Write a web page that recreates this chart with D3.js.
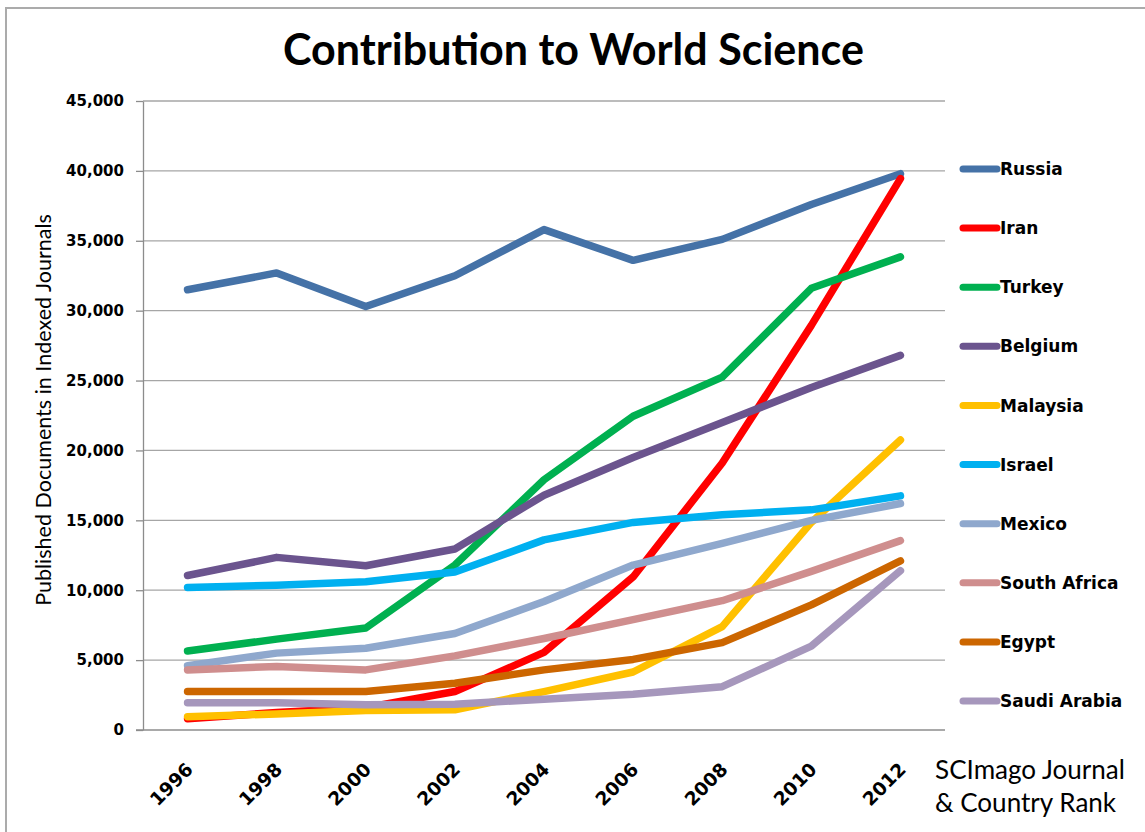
<!DOCTYPE html>
<html>
<head>
<meta charset="utf-8">
<script src="https://cdn.jsdelivr.net/npm/d3@7"></script>
<style>
  html, body { margin: 0; padding: 0; background: #fff; }
  svg { display: block; }
</style>
</head>
<body>
<svg id="chart" width="1145" height="832"></svg>
<script>
// ---- data ----
const years = ["1996", "1998", "2000", "2002", "2004", "2006", "2008", "2010", "2012"];
const seriesNames = ["Russia", "Iran", "Turkey", "Belgium", "Malaysia", "Israel", "Mexico", "South Africa", "Egypt", "Saudi Arabia"];
const russia      = [31500, 32700, 30300, 32500, 35800, 33600, 35100, 37600, 39800];
const iran        = [800, 1250, 1600, 2750, 5550, 10950, 19100, 28950, 39450];
const turkey      = [5650, 6500, 7300, 11800, 17900, 22450, 25250, 31600, 33850];
const belgium     = [11050, 12350, 11750, 12950, 16800, 19500, 22000, 24500, 26800];
const malaysia    = [950, 1150, 1400, 1450, 2750, 4150, 7400, 14850, 20750];
const israel      = [10200, 10350, 10600, 11300, 13600, 14850, 15400, 15750, 16750];
const mexico      = [4600, 5500, 5850, 6900, 9200, 11800, 13350, 15000, 16200];
const southAfrica = [4300, 4550, 4300, 5300, 6550, 7900, 9250, 11350, 13550];
const egypt       = [2750, 2750, 2750, 3350, 4300, 5050, 6250, 8950, 12100];
const saudiArabia = [1950, 1950, 1800, 1850, 2200, 2550, 3100, 6000, 11400];
const yTicks = [0, 5000, 10000, 15000, 20000, 25000, 30000, 35000, 40000, 45000];
const colors = ["#4572A7", "#FF0000", "#00B050", "#6B548E", "#FFC000", "#00B0F0", "#8FA8CD", "#CF8E8E", "#CC6600", "#A697BC"];

const seriesValues = [russia, iran, turkey, belgium, malaysia, israel, mexico, southAfrica, egypt, saudiArabia];
const series = seriesNames.map((name, i) => ({ name, values: seriesValues[i], color: colors[i] }));

// ---- layout ----
const svg = d3.select("#chart");
const plot = { left: 143, right: 945, top: 101, bottom: 730 };

const x = d3.scalePoint().domain(years).range([plot.left, plot.right]).padding(0.5);
const y = d3.scaleLinear().domain([0, 45000]).range([plot.bottom, plot.top]);

function fitText(sel, target) {
  const node = sel.node();
  const fs = parseFloat(sel.attr("font-size"));
  const len = node.getComputedTextLength();
  if (len > 0) sel.attr("font-size", (fs * target / len).toFixed(2));
  return sel;
}

// outer border
svg.append("rect")
  .attr("x", 6).attr("y", 8).attr("width", 1300).attr("height", 1000)
  .attr("fill", "none").attr("stroke", "#ABABAB").attr("stroke-width", 2);

// title
const title = svg.append("text")
  .attr("x", 573.5).attr("y", 65)
  .attr("text-anchor", "middle")
  .attr("font-family", "Lato, 'Open Sans', sans-serif")
  .attr("font-weight", "bold")
  .attr("font-size", 40)
  .attr("fill", "#000")
  .text("Contribution to World Science");
fitText(title, 581);

// gridlines
svg.append("g")
  .selectAll("line")
  .data(yTicks.filter(d => d > 0))
  .join("line")
  .attr("x1", plot.left).attr("x2", plot.right)
  .attr("y1", d => y(d)).attr("y2", d => y(d))
  .attr("stroke", "#A6A6A6").attr("stroke-width", 1.3);

// y axis
const yAxis = d3.axisLeft(y).tickValues(yTicks).tickSize(7).tickSizeOuter(0).tickPadding(12)
  .tickFormat(d3.format(","));
const gy = svg.append("g").attr("transform", `translate(${plot.left},0)`).call(yAxis);
gy.select(".domain").attr("stroke", "#8C8C8C").attr("stroke-width", 1.3);
gy.selectAll(".tick line").attr("stroke", "#8C8C8C").attr("stroke-width", 1.3);
gy.selectAll(".tick text")
  .attr("font-family", "'DejaVu Sans', Verdana, sans-serif")
  .attr("font-weight", "bold")
  .attr("font-size", 15)
  .attr("fill", "#000");

// x axis line
const xAxis = d3.axisBottom(x).tickSize(0).tickSizeOuter(0).tickFormat("");
const gx = svg.append("g").attr("transform", `translate(0,${plot.bottom})`).call(xAxis);
gx.select(".domain").attr("stroke", "#8C8C8C").attr("stroke-width", 1.3)
  .attr("d", `M${plot.left - 7},0H${plot.right}`);

// x labels rotated
svg.append("g")
  .selectAll("text")
  .data(years)
  .join("text")
  .attr("transform", d => `translate(${x(d) + 2},${plot.bottom + 36}) rotate(-45)`)
  .attr("text-anchor", "end")
  .attr("dy", "0.35em")
  .attr("font-family", "'DejaVu Sans', Verdana, sans-serif")
  .attr("font-weight", "bold")
  .attr("font-size", 18.5)
  .attr("fill", "#000")
  .text(d => d);

// y axis title
const yTitle = svg.append("text")
  .attr("transform", "translate(51,410) rotate(-90)")
  .attr("text-anchor", "middle")
  .attr("font-family", "Lato, 'Open Sans', sans-serif")
  .attr("font-size", 20)
  .attr("fill", "#000")
  .text("Published Documents in Indexed Journals");
fitText(yTitle, 392);

// lines
const line = d3.line().x((d, i) => x(years[i])).y(d => y(d));
svg.append("g")
  .selectAll("path")
  .data(series)
  .join("path")
  .attr("d", d => line(d.values))
  .attr("fill", "none")
  .attr("stroke", d => d.color)
  .attr("stroke-width", 7.5)
  .attr("stroke-linejoin", "round")
  .attr("stroke-linecap", "round");

// legend
const legend = svg.append("g");
const legendY = d3.scalePoint().domain(seriesNames).range([169, 701]);
const items = legend.selectAll("g").data(series).join("g")
  .attr("transform", d => `translate(0,${legendY(d.name)})`);
items.append("line")
  .attr("x1", 963).attr("x2", 997).attr("y1", 0).attr("y2", 0)
  .attr("stroke", d => d.color).attr("stroke-width", 7).attr("stroke-linecap", "round");
items.append("text")
  .attr("x", 1000).attr("dy", "0.36em")
  .attr("font-family", "'DejaVu Sans', Verdana, sans-serif")
  .attr("font-weight", "bold")
  .attr("font-size", 17)
  .attr("fill", "#000")
  .text(d => d.name);

// source note
const note1 = svg.append("text")
  .attr("x", 935).attr("y", 779)
  .attr("font-family", "Lato, 'Open Sans', sans-serif")
  .attr("font-size", 24).attr("fill", "#000")
  .text("SCImago Journal");
fitText(note1, 190);
const note2 = svg.append("text")
  .attr("x", 935).attr("y", 812)
  .attr("font-family", "Lato, 'Open Sans', sans-serif")
  .attr("font-size", note1.attr("font-size")).attr("fill", "#000")
  .text("& Country Rank");
</script>
</body>
</html>
